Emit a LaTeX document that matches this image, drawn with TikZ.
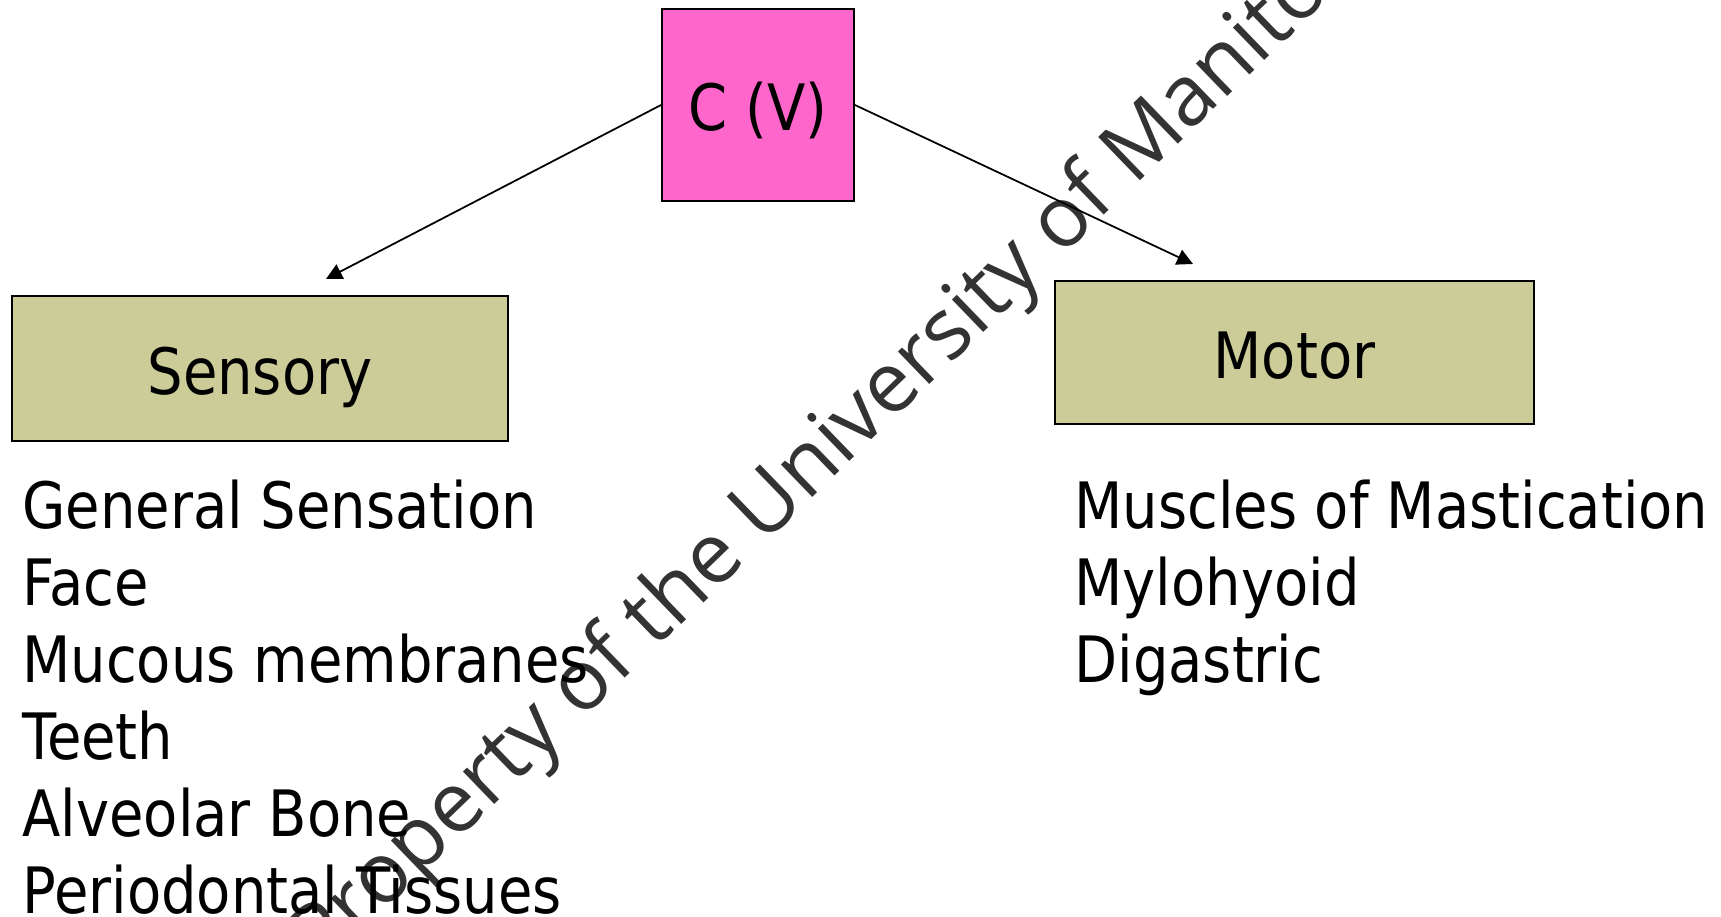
\documentclass[tikz,border=0pt]{standalone}
\usepackage{fontspec}
\setmainfont{DejaVu Sans}[FakeStretch=0.875]
\newfontfamily\wmfont{Open Sans}
\usepackage{tikz}
\usetikzlibrary{arrows.meta,positioning}
\definecolor{cvpink}{HTML}{FF66CC}
\definecolor{khaki}{HTML}{CCCC99}
\newcommand{\slidefont}{\fontsize{36.4}{44}\selectfont}
\newcommand{\wmsize}{\wmfont\fontsize{48}{58}\selectfont}

\begin{document}
\begin{tikzpicture}[font=\slidefont,
  box/.style={draw=black,line width=1.1pt,inner sep=0pt,align=center,text height=1.04cm,text depth=0pt},
  item/.style={anchor=base west,inner sep=0pt},
  arr/.style={-{Triangle[length=0.32cm,width=0.32cm]},line width=1pt},
  wmark/.style={font=\wmsize,text=black,text opacity=0.8,anchor=base west,inner sep=0pt}]
\useasboundingbox (0,0) rectangle (34.42,18.32);
\node[box,fill=cvpink,minimum width=3.84cm,minimum height=3.84cm] (cv) at (15.16,16.22) {C (V)};
\node[box,fill=khaki,minimum width=9.92cm,minimum height=2.90cm] (sens) at (5.20,10.95) {Sensory};
\node[box,fill=khaki,minimum width=9.58cm,minimum height=2.86cm] (mot) at (25.89,11.27) {Motor};
% sensory list
\node[item] (s1) at (0.44,7.76) {General Sensation};
\node[item] (s2) at (0.44,6.22) {Face};
\node[item] (s3) at (0.44,4.68) {Mucous membranes};
\node[item] (s4) at (0.44,3.14) {Teeth};
\node[item] (s5) at (0.44,1.60) {Alveolar Bone};
\node[item] (s6) at (0.44,0.06) {Periodontal Tissues};
% motor list
\node[item] (m1) at (21.48,7.76) {Muscles of Mastication};
\node[item] (m2) at (21.48,6.22) {Mylohyoid};
\node[item] (m3) at (21.48,4.68) {Digastric};
% watermark
\node[wmark,rotate=44] (wm) at (6.42,-1.12) {Property of the University of Manitoba};
\coordinate (senstip) at (6.52,12.74);
\coordinate (mottip) at (23.86,13.04);
\draw[arr] (cv.west) -- (senstip);
\draw[arr] (cv.east) -- (mottip);
\end{tikzpicture}
\end{document}
